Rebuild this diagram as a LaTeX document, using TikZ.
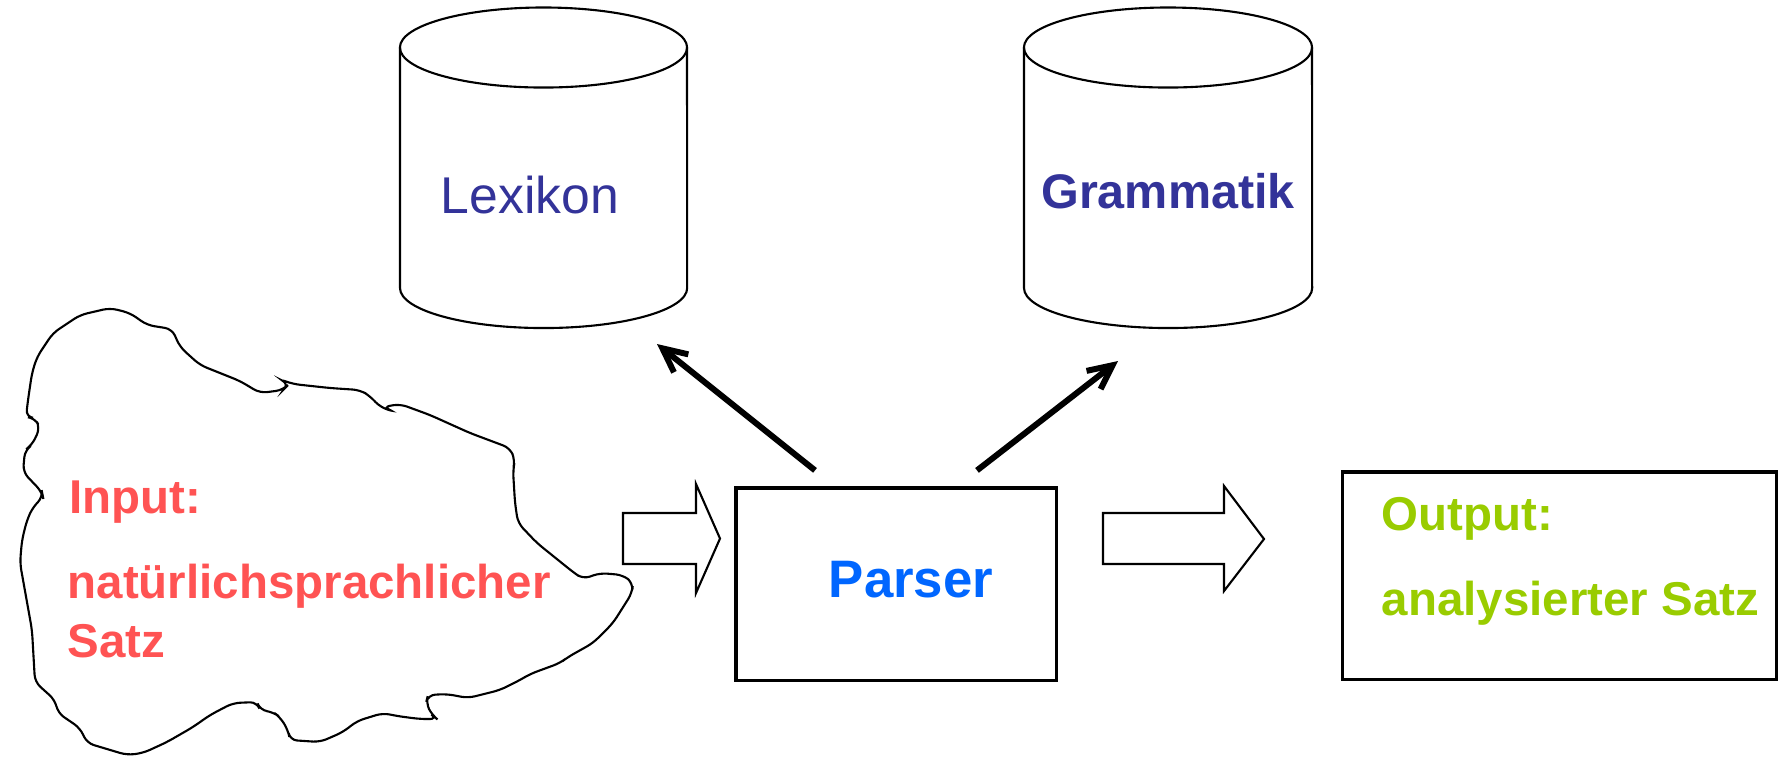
\documentclass[tikz,border=0pt]{standalone}
\usepackage{fontspec}
\setmainfont{Liberation Sans}
\usetikzlibrary{arrows.meta}

\definecolor{inred}{HTML}{FF5353}
\definecolor{dbblue}{HTML}{333399}
\definecolor{parsblue}{HTML}{0066FF}
\definecolor{outgreen}{HTML}{99CC00}

\begin{document}
\begin{tikzpicture}[x=0.01cm, y=-0.01cm,
  dbline/.style={line width=0.6pt},
  box/.style={draw, rectangle, line width=0.9pt},
  fat/.style={line width=1.7pt, -{Straight Barb[length=2.4mm,width=2.3mm]}},
  hollow/.style={line width=0.6pt},
  intxt/.style={anchor=base west, inner sep=0, text=inred,
    font=\fontsize{13.5}{16}\selectfont\bfseries},
  outtxt/.style={anchor=base west, inner sep=0, text=outgreen,
    font=\fontsize{13.5}{16}\selectfont\bfseries}]
\useasboundingbox (0,0) rectangle (1783,756);

% Datenbanken
\draw[dbline] (400,47.5) -- (400,288) arc[start angle=180, end angle=360, x radius=1.435cm, y radius=0.4cm] -- (687,47.5);
\draw[dbline] (543.5,47.5) ellipse [x radius=1.435cm, y radius=0.4cm];
\draw[dbline] (1024,47.5) -- (1024,288) arc[start angle=180, end angle=360, x radius=1.44cm, y radius=0.4cm] -- (1312,47.5);
\draw[dbline] (1168,47.5) ellipse [x radius=1.44cm, y radius=0.4cm];
\node(LexT)[anchor=base, inner sep=0, text=dbblue, font=\fontsize{14.7}{17}\selectfont] at (530,213){Lexikon};
\node(GramT)[anchor=base, inner sep=0, text=dbblue, font=\fontsize{13.8}{17}\selectfont\bfseries] at (1168,208){Grammatik};

% Eingabe
\draw[line width=0.6pt, rounded corners=2pt] (110,308) -- (130,313) -- (147,325) -- (172,329)
  -- (180,347) -- (200,365) -- (240,381) -- (260,393) -- (283,390) -- (289,384) -- (279,379)
  -- (293,384) -- (330,388) -- (360,390) -- (370,396) -- (380,407) -- (395,412) -- (383,407)
  -- (400,404) -- (430,415) -- (470,433) -- (510,448) -- (515,460) -- (513,470) -- (515,503)
  -- (518,523) -- (537,543) -- (573,572) -- (583,579) -- (600,573) -- (623,575) -- (633,583)
  -- (632,593) -- (613,623) -- (593,643) -- (568,657) -- (560,663) -- (530,674) -- (520,680)
  -- (500,690) -- (468,698) -- (447,694) -- (428,695) -- (426,703) -- (432,715) -- (437,719)
  -- (420,719) -- (397,716) -- (383,713) -- (357,721) -- (343,732) -- (320,742) -- (290,740)
  -- (288,730) -- (280,717) -- (273,712) -- (260,710) -- (257,702) -- (233,703) -- (210,715)
  -- (193,727) -- (167,742) -- (143,753) -- (127,755) -- (87,743) -- (80,728) -- (58,713)
  -- (55,700) -- (35,682) -- (32,630) -- (20,563) -- (22,540) -- (27,520) -- (33,507)
  -- (43,497) -- (42,492) -- (23,472) -- (25,450) -- (32,445) -- (40,428) -- (35,418)
  -- (26,417) -- (28,400) -- (32,373) -- (37,357) -- (53,333) -- (80,315) -- cycle;
\node(InA)[intxt] at (69,513){Input:};
\node(InB)[intxt] at (67,598){natürlichsprachlicher};
\node(InC)[intxt] at (67,657){Satz};

\draw[hollow] (623,513) -- (696,513) -- (696,484) -- (720,538.5) -- (696,593) -- (696,564) -- (623,564) -- cycle;

% Parser
\node(Parser)[box, minimum width=3.2cm, minimum height=1.92cm] at (896,584){};
\node(ParsT)[anchor=base, inner sep=0, text=parsblue, font=\fontsize{15}{18}\selectfont\bfseries] at (911,597){Parser};

\coordinate(ParsL) at ([shift={(-81,-16)}]Parser.north);
\coordinate(ParsR) at ([shift={(81,-16)}]Parser.north);
\coordinate(LexIn) at (657,344);
\coordinate(GramIn) at (1118,361);
\draw[fat] (ParsL) -- (LexIn);
\draw[fat] (ParsR) -- (GramIn);

\draw[hollow] (1103,513) -- (1224,513) -- (1224,486) -- (1264,539) -- (1224,591) -- (1224,564) -- (1103,564) -- cycle;

% Ausgabe
\node(Out)[box, minimum width=4.33cm, minimum height=2.07cm] at (1559.5,575.5){};
\node(OutA)[outtxt] at (1381,530){Output:};
\node(OutB)[outtxt] at (1381,615){analysierter Satz};
\end{tikzpicture}
\end{document}
